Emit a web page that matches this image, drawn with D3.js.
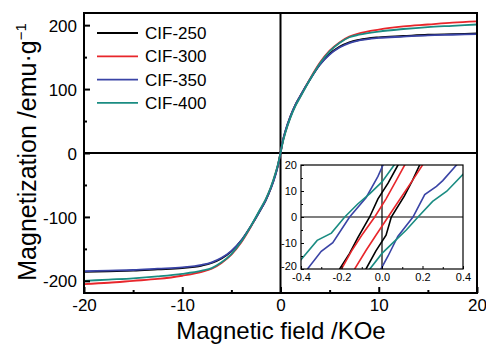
<!DOCTYPE html>
<html>
<head>
<meta charset="utf-8">
<script src="https://cdn.jsdelivr.net/npm/d3@7"></script>
<style>
body { margin: 0; background: #fff; }
text { font-family: "Liberation Sans", Arial, sans-serif; }
</style>
</head>
<body>
<script>
// main loop: field (kOe) and magnetization (emu/g), one branch per sample
var field = [-20, -17.5, -15, -12.5, -10, -8, -7, -6, -5, -4, -3, -2, -1.5, -1, -0.5, -0.25, 0,
             0.25, 0.5, 1, 1.5, 2, 3, 4, 5, 6, 7, 8, 10, 12.5, 15, 17.5, 20];
var cif250 = [-186, -185, -184, -182, -180, -176, -172, -165, -154, -137, -114, -88, -74, -56, -33, -19, 0,
              20, 34, 57, 75, 89, 115, 138, 155, 166, 173, 177, 181, 183, 185, 186, 187];
var cif300 = [-205, -203, -200, -197, -192, -186, -181, -172, -159, -140, -115, -87, -73, -55, -32, -18, 0,
              19, 33, 56, 74, 88, 116, 141, 160, 173, 182, 187, 193, 198, 201, 204, 206];
var cif350 = [-185, -184, -183, -181, -179, -175, -171, -164, -153, -137, -114, -88, -74, -56, -34, -19, 0,
              20, 35, 57, 75, 89, 115, 138, 154, 165, 172, 176, 180, 182, 184, 185, 186];
var cif400 = [-200, -198, -196, -193, -189, -184, -180, -171, -158, -139, -114, -86, -72, -54, -31, -17, 0,
              18, 32, 55, 73, 87, 115, 140, 159, 172, 181, 185, 190, 194, 197, 199, 201];

var names = ['CIF-250', 'CIF-300', 'CIF-350', 'CIF-400'];
var colors = ['#000000', '#e8262b', '#3a44a6', '#1a8c82'];

// inset: [field kOe, magnetization] for descending / ascending branches
var in250Down = [[-0.23, -23], [-0.209, -20], [-0.16, -14], [-0.12, -8], [-0.061, 0], [-0.02, 7], [0.03, 13], [0.079, 20], [0.1, 23]];
var in250Up = [[-0.1, -23], [-0.079, -20], [-0.03, -13], [0.02, -7], [0.046, 0], [0.11, 8], [0.15, 14], [0.186, 20], [0.21, 23]];
var in300Down = [[-0.23, -23], [-0.2, -20], [-0.15, -13], [-0.1, -7], [-0.036, 0], [0.02, 7], [0.07, 14], [0.112, 20], [0.14, 23]];
var in300Up = [[-0.16, -23], [-0.135, -20], [-0.08, -13], [-0.03, -7], [0.03, 0], [0.09, 7], [0.15, 14], [0.2, 20], [0.23, 23]];
var in350Down = [[-0.4, -23], [-0.368, -20], [-0.3, -13.2], [-0.243, -9.9], [-0.16, 0], [-0.078, 7.5], [-0.02, 15.6], [0.005, 20], [0.03, 23]];
var in350Up = [[-0.03, -23], [-0.005, -20], [0.03, -15], [0.078, -7.5], [0.153, 0], [0.211, 8.6], [0.269, 11.8], [0.3, 14], [0.368, 20], [0.4, 23]];
var in400Down = [[-0.45, -20], [-0.4, -16.4], [-0.32, -9], [-0.25, -6.2], [-0.184, 0], [-0.12, 5], [-0.06, 9], [0, 13.5], [0.06, 20], [0.08, 23]];
var in400Up = [[-0.08, -23], [-0.06, -20], [0, -14], [0.06, -9.5], [0.12, -5], [0.178, 0], [0.25, 6], [0.32, 9.9], [0.4, 16.4], [0.45, 20]];

var xTicks = [-20, -10, 0, 10, 20];
var yTicks = [-200, -100, 0, 100, 200];
var insetXTicks = [-0.4, -0.2, 0, 0.2, 0.4];
var insetYTicks = [-20, -10, 0, 10, 20];

var WIDTH = 486;
var HEIGHT = 346;

var svg = d3.select('body').append('svg')
  .attr('width', WIDTH)
  .attr('height', HEIGHT);

var x = d3.scaleLinear().domain([-20, 20]).range([84, 477]);
var y = d3.scaleLinear().domain([-219, 219]).range([293, 13]);

// zero lines
svg.append('line').attr('x1', x(-20)).attr('x2', x(20)).attr('y1', y(0)).attr('y2', y(0))
  .attr('stroke', '#000').attr('stroke-width', 2);
svg.append('line').attr('x1', x(0)).attr('x2', x(0)).attr('y1', y(219)).attr('y2', y(-219))
  .attr('stroke', '#000').attr('stroke-width', 2);

var line = d3.line()
  .x(function(d) { return x(d[0]); })
  .y(function(d) { return y(d[1]); })
  .curve(d3.curveMonotoneX);

var series = [cif250, cif300, cif350, cif400];
series.forEach(function(vals, i) {
  var pts = field.map(function(h, j) { return [h, vals[j]]; });
  svg.append('path')
    .attr('d', line(pts))
    .attr('fill', 'none')
    .attr('stroke', colors[i])
    .attr('stroke-width', 1.8);
});

// plain hyphen for negatives, like the original figure
function plain(d) { return String(d); }
function oneDec(d) { return d.toFixed(1); }

// axes
var xAxis = svg.append('g').attr('transform', 'translate(0,293)')
  .call(d3.axisBottom(x).tickValues(xTicks).tickSize(-6).tickPadding(6).tickFormat(plain));
var xMinor = svg.append('g').attr('transform', 'translate(0,293)')
  .call(d3.axisBottom(x).tickValues([-15, -5, 5, 15]).tickSize(-3).tickFormat(''));
var yAxis = svg.append('g').attr('transform', 'translate(84,0)')
  .call(d3.axisLeft(y).tickValues(yTicks).tickSize(-6).tickPadding(7).tickFormat(plain));
var yMinor = svg.append('g').attr('transform', 'translate(84,0)')
  .call(d3.axisLeft(y).tickValues([-150, -50, 50, 150]).tickSize(-3).tickFormat(''));

[xAxis, xMinor, yAxis, yMinor].forEach(function(g) {
  g.select('.domain').remove();
  g.selectAll('line').attr('stroke', '#000').attr('stroke-width', 2);
  g.selectAll('text').style('font-size', '17px').attr('fill', '#000');
});
yAxis.selectAll('text').attr('dy', '0.36em');

// frame
svg.append('rect')
  .attr('x', 84).attr('y', 13).attr('width', 393).attr('height', 280)
  .attr('fill', 'none').attr('stroke', '#000').attr('stroke-width', 2);

// legend
var legend = svg.append('g');
names.forEach(function(n, i) {
  var ly = 33 + i * 23.3;
  legend.append('line').attr('x1', 97).attr('x2', 138).attr('y1', ly).attr('y2', ly)
    .attr('stroke', colors[i]).attr('stroke-width', 1.8);
  legend.append('text').attr('x', 145).attr('y', ly).attr('dy', '0.36em')
    .style('font-size', '17px').text(n);
});

// axis titles
svg.append('text')
  .attr('x', 281).attr('y', 339)
  .attr('text-anchor', 'middle')
  .style('font-size', '24px')
  .text('Magnetic field /KOe');

var yt = svg.append('text')
  .attr('transform', 'translate(36,152) rotate(-90)')
  .attr('text-anchor', 'middle')
  .style('font-size', '25px');
yt.append('tspan').text('Magnetization /emu\u00b7g');
yt.append('tspan').attr('dy', -10).style('font-size', '15px').text('\u22121');

// inset
var ix = d3.scaleLinear().domain([-0.4, 0.4]).range([301, 463]);
var iy = d3.scaleLinear().domain([-20, 20]).range([269, 165]);

var inset = svg.append('g');
inset.append('rect').attr('x', 301).attr('y', 165).attr('width', 162).attr('height', 104)
  .attr('fill', '#fff');

svg.append('clipPath').attr('id', 'inclip')
  .append('rect').attr('x', 301).attr('y', 165).attr('width', 162).attr('height', 104);

inset.append('line').attr('x1', ix(-0.4)).attr('x2', ix(0.4)).attr('y1', iy(0)).attr('y2', iy(0))
  .attr('stroke', '#000').attr('stroke-width', 1.2);
inset.append('line').attr('x1', ix(0)).attr('x2', ix(0)).attr('y1', iy(20)).attr('y2', iy(-20))
  .attr('stroke', '#000').attr('stroke-width', 1.2);

var iline = d3.line()
  .x(function(d) { return ix(d[0]); })
  .y(function(d) { return iy(d[1]); });

var branches = [[in250Down, in250Up], [in300Down, in300Up], [in350Down, in350Up], [in400Down, in400Up]];
var curves = inset.append('g').attr('clip-path', 'url(#inclip)');
branches.forEach(function(pair, i) {
  pair.forEach(function(b) {
    curves.append('path')
      .attr('d', iline(b))
      .attr('fill', 'none')
      .attr('stroke', colors[i])
      .attr('stroke-width', 1.6);
  });
});

var ixAxis = inset.append('g').attr('transform', 'translate(0,269)')
  .call(d3.axisBottom(ix).tickValues(insetXTicks).tickSize(-3).tickPadding(4).tickFormat(oneDec));
var ixMinor = inset.append('g').attr('transform', 'translate(0,269)')
  .call(d3.axisBottom(ix).tickValues([-0.3, -0.1, 0.1, 0.3]).tickSize(-2).tickFormat(''));
var iyAxis = inset.append('g').attr('transform', 'translate(301,0)')
  .call(d3.axisLeft(iy).tickValues(insetYTicks).tickSize(-3).tickPadding(4).tickFormat(plain));
var iyMinor = inset.append('g').attr('transform', 'translate(301,0)')
  .call(d3.axisLeft(iy).tickValues([-15, -5, 5, 15]).tickSize(-2).tickFormat(''));

[ixAxis, ixMinor, iyAxis, iyMinor].forEach(function(g) {
  g.select('.domain').remove();
  g.selectAll('line').attr('stroke', '#000').attr('stroke-width', 1);
  g.selectAll('text').style('font-size', '11px').attr('fill', '#000');
});
iyAxis.selectAll('text').attr('dy', function(d) { return d === -20 ? '0.05em' : '0.36em'; });

inset.append('rect').attr('x', 301).attr('y', 165).attr('width', 162).attr('height', 104)
  .attr('fill', 'none').attr('stroke', '#000').attr('stroke-width', 1.2);
</script>
</body>
</html>
